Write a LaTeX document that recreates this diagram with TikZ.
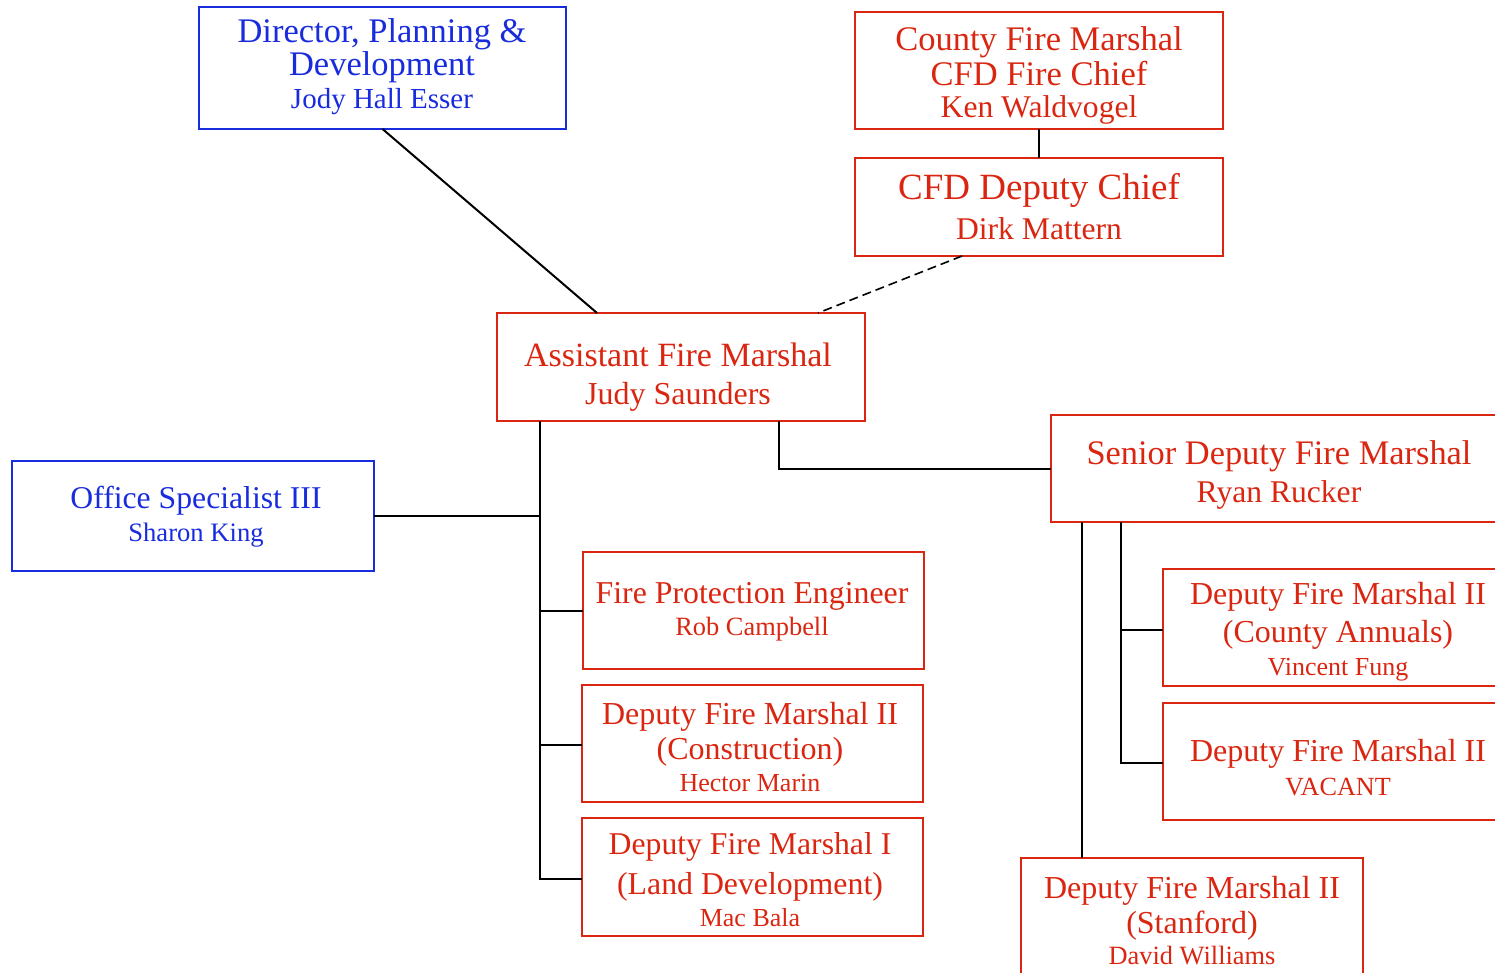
\documentclass[tikz,border=0pt]{standalone}
\usepackage{fontspec}
\setmainfont{Liberation Serif}
\definecolor{ored}{RGB}{218,38,16}
\definecolor{oblue}{RGB}{24,44,222}
\newcommand\fsz[1]{\fontsize{#1}{#1}\selectfont}
\begin{document}
\begin{tikzpicture}[x=1pt,y=-1pt,
  orgbox/.style={draw, line width=2pt, inner sep=0pt, outer sep=0pt, anchor=north west},
  rbox/.style={orgbox, draw=ored},
  bbox/.style={orgbox, draw=oblue},
  txt/.style={anchor=base, inner sep=0pt, outer sep=0pt},
  rt/.style={txt, text=ored},
  bt/.style={txt, text=oblue},
  conn/.style={draw=black, line width=2pt},
  dconn/.style={conn, line width=1.6pt, dash pattern=on 9pt off 5pt}]
\useasboundingbox (0,0) rectangle (1495,973);
\clip (0,0) rectangle (1495,973);
% boxes
\node[bbox, minimum width=367pt, minimum height=122pt] (dir) at (199,7) {};
\node[rbox, minimum width=368pt, minimum height=117pt] (cfm) at (855,12) {};
\node[rbox, minimum width=368pt, minimum height=98pt] (cdc) at (855,158) {};
\node[rbox, minimum width=368pt, minimum height=108pt] (afm) at (497,313) {};
\node[bbox, minimum width=362pt, minimum height=110pt] (osp) at (12,461) {};
\node[rbox, minimum width=459pt, minimum height=107pt] (sdfm) at (1051,415) {};
\node[rbox, minimum width=341pt, minimum height=117pt] (fpe) at (583,552) {};
\node[rbox, minimum width=341pt, minimum height=117pt] (dcon) at (582,685) {};
\node[rbox, minimum width=341pt, minimum height=118pt] (dland) at (582,818) {};
\node[rbox, minimum width=347pt, minimum height=117pt] (dca) at (1163,569) {};
\node[rbox, minimum width=347pt, minimum height=117pt] (dvac) at (1163,703) {};
\node[rbox, minimum width=342pt, minimum height=127pt] (dstan) at (1021,858) {};
% texts
\node[bt, font=\fsz{34.5}] (dirA) at (382,43) {Director, Planning \&};
\node[bt, font=\fsz{34.5}] (dirB) at (382,76) {Development};
\node[bt, font=\fsz{29}] (dirC) at (382,109) {Jody Hall Esser};
\node[rt, font=\fsz{34.5}] (cfmA) at (1039,51) {County Fire Marshal};
\node[rt, font=\fsz{34.5}] (cfmB) at (1039,86) {CFD Fire Chief};
\node[rt, font=\fsz{31.6}] (cfmC) at (1039,118) {Ken Waldvogel};
\node[rt, font=\fsz{37}] (cdcA) at (1039,200) {CFD Deputy Chief};
\node[rt, font=\fsz{31.6}] (cdcB) at (1039,240) {Dirk Mattern};
\node[rt, font=\fsz{34}] (afmA) at (678,366) {Assistant Fire Marshal};
\node[rt, font=\fsz{32}] (afmB) at (678,404) {Judy Saunders};
\node[bt, font=\fsz{31.7}] (ospA) at (196,508) {Office Specialist III};
\node[bt, font=\fsz{26.6}] (ospB) at (196,541) {Sharon King};
\node[rt, font=\fsz{34.4}] (sdfmA) at (1279,464) {Senior Deputy Fire Marshal};
\node[rt, font=\fsz{31.6}] (sdfmB) at (1279,502) {Ryan Rucker};
\node[rt, font=\fsz{31.8}] (fpeA) at (752,603) {Fire Protection Engineer};
\node[rt, font=\fsz{26.4}] (fpeB) at (752,635) {Rob Campbell};
\node[rt, font=\fsz{32}] (dconA) at (750,724) {Deputy Fire Marshal II};
\node[rt, font=\fsz{32}] (dconB) at (750,759) {(Construction)};
\node[rt, font=\fsz{26}] (dconC) at (750,791) {Hector Marin};
\node[rt, font=\fsz{31.7}] (dlandA) at (750,854) {Deputy Fire Marshal I};
\node[rt, font=\fsz{31.8}] (dlandB) at (750,894) {(Land Development)};
\node[rt, font=\fsz{26}] (dlandC) at (750,926) {Mac Bala};
\node[rt, font=\fsz{32}] (dcaA) at (1338,604) {Deputy Fire Marshal II};
\node[rt, font=\fsz{32}] (dcaB) at (1338,642) {(County Annuals)};
\node[rt, font=\fsz{26}] (dcaC) at (1338,675) {Vincent Fung};
\node[rt, font=\fsz{32}] (dvacA) at (1338,761) {Deputy Fire Marshal II};
\node[rt, font=\fsz{26.2}] (dvacB) at (1338,795) {VACANT};
\node[rt, font=\fsz{32}] (dstanA) at (1192,898) {Deputy Fire Marshal II};
\node[rt, font=\fsz{32}] (dstanB) at (1192,933) {(Stanford)};
\node[rt, font=\fsz{26.4}] (dstanC) at (1192,964) {David Williams};
% connector points
\coordinate (afmL) at (597,313);
\coordinate (afmR) at (818,313);
\coordinate (cdcS) at (962,256);
\coordinate (tl) at (540,421);
\coordinate (tlosp) at (540,516);
\coordinate (tlfpe) at (540,611);
\coordinate (tlcon) at (540,745);
\coordinate (tlland) at (540,879);
\coordinate (tr) at (779,421);
\coordinate (trs) at (779,469);
\coordinate (s1) at (1082,522);
\coordinate (s2) at (1121,522);
\coordinate (s2ca) at (1121,630);
\coordinate (s2vac) at (1121,763);
% connectors
\draw[conn] (cfm.south) -- (cdc.north);
\draw[conn] (dir.south) -- (afmL);
\draw[dconn] (cdcS) -- (afmR);
\draw[conn] (tl) -- (tlland) -- (tlland -| dland.west);
\draw[conn] (tlosp) -- (tlosp -| osp.east);
\draw[conn] (tlfpe) -- (tlfpe -| fpe.west);
\draw[conn] (tlcon) -- (tlcon -| dcon.west);
\draw[conn] (tr) -- (trs) -- (trs -| sdfm.west);
\draw[conn] (s1) -- (s1 |- dstan.north);
\draw[conn] (s2) -- (s2vac) -- (s2vac -| dvac.west);
\draw[conn] (s2ca) -- (s2ca -| dca.west);
\end{tikzpicture}
\end{document}
